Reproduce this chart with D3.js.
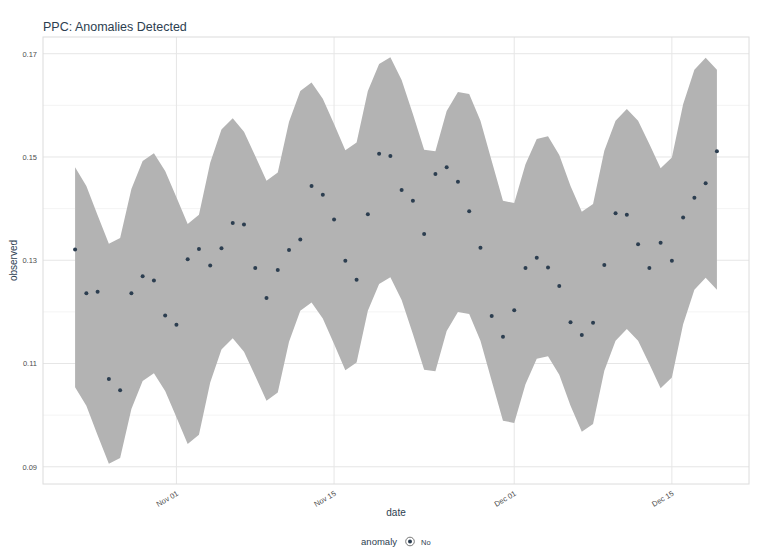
<!DOCTYPE html>
<html><head><meta charset="utf-8">
<script src="https://cdn.jsdelivr.net/npm/d3@7"></script>
<style>body{margin:0;background:#fff;} svg{display:block;font-family:"Liberation Sans",Arial,sans-serif;}</style>
</head><body>
<svg id="c" width="768" height="560"></svg>
<script>
const startDate = "2017-10-23";
const observed = [0.1321,0.1236,0.1239,0.1070,0.1048,0.1236,0.1269,0.1261,0.1193,0.1175,
0.1302,0.1322,0.1290,0.1323,0.1372,0.1369,0.1285,0.1227,0.1281,0.1320,
0.1340,0.1444,0.1427,0.1379,0.1299,0.1262,0.1389,0.1506,0.1502,0.1436,
0.1415,0.1351,0.1467,0.1480,0.1452,0.1395,0.1324,0.1192,0.1152,0.1203,
0.1285,0.1305,0.1286,0.1250,0.1180,0.1155,0.1179,0.1291,0.1391,0.1388,
0.1331,0.1285,0.1334,0.1299,0.1383,0.1421,0.1449,0.1511];
const upper = [0.1480,0.1444,0.1387,0.1332,0.1343,0.1438,0.1492,0.1507,0.1473,0.1422,
0.1370,0.1388,0.1489,0.1553,0.1575,0.1549,0.1502,0.1454,0.1470,0.1568,
0.1628,0.1644,0.1613,0.1564,0.1513,0.1528,0.1628,0.1680,0.1693,0.1649,
0.1583,0.1514,0.1511,0.1589,0.1626,0.1622,0.1570,0.1492,0.1415,0.1411,
0.1486,0.1535,0.1540,0.1504,0.1444,0.1394,0.1409,0.1512,0.1570,0.1593,
0.1570,0.1525,0.1478,0.1499,0.1602,0.1669,0.1692,0.1669];
const lower = [0.1054,0.1018,0.0961,0.0906,0.0917,0.1012,0.1066,0.1081,0.1047,0.0996,
0.0944,0.0962,0.1063,0.1127,0.1149,0.1123,0.1076,0.1028,0.1044,0.1142,
0.1202,0.1218,0.1187,0.1138,0.1087,0.1102,0.1202,0.1254,0.1267,0.1223,
0.1157,0.1088,0.1085,0.1163,0.1200,0.1196,0.1144,0.1066,0.0989,0.0985,
0.1060,0.1109,0.1114,0.1078,0.1018,0.0968,0.0983,0.1086,0.1144,0.1167,
0.1144,0.1099,0.1052,0.1073,0.1176,0.1243,0.1266,0.1243];
const xTicks = ["2017-11-01","2017-11-15","2017-12-01","2017-12-15"];
const yTicks = [0.09,0.11,0.13,0.15,0.17];
const yMinor = [0.10,0.12,0.14,0.16];
const title = "PPC: Anomalies Detected";

const parse = d3.utcParse("%Y-%m-%d");
const d0 = parse(startDate);
const data = observed.map((v,i)=>({date:d3.utcDay.offset(d0,i), obs:v, hi:upper[i], lo:lower[i]}));

const svg = d3.select("#c");
const L=43, R=749, T=37, B=484;
const ext = d3.extent(data,d=>d.date);
const span = ext[1]-ext[0];
const x = d3.scaleUtc().domain([new Date(+ext[0]-span*0.05), new Date(+ext[1]+span*0.05)]).range([L,R]);
const yLo = d3.min(lower), yHi = d3.max(upper), yr = yHi-yLo;
const y = d3.scaleLinear().domain([yLo-yr*0.05, yHi+yr*0.05]).range([B,T]);

const grid = svg.append("g");
grid.selectAll(".ymin").data(yMinor).join("line").attr("x1",L).attr("x2",R)
  .attr("y1",d=>y(d)).attr("y2",d=>y(d)).attr("stroke","#f0f0f0").attr("stroke-width",0.8);
grid.selectAll(".ymaj").data(yTicks).join("line").attr("x1",L).attr("x2",R)
  .attr("y1",d=>y(d)).attr("y2",d=>y(d)).attr("stroke","#e6e6e6").attr("stroke-width",1);
grid.selectAll(".xmaj").data(xTicks).join("line").attr("y1",T).attr("y2",B)
  .attr("x1",d=>x(parse(d))).attr("x2",d=>x(parse(d))).attr("stroke","#e6e6e6").attr("stroke-width",1);

const area = d3.area().x(d=>x(d.date)).y0(d=>y(d.lo)).y1(d=>y(d.hi));
svg.append("path").datum(data).attr("d",area).attr("fill","#b3b3b3");

svg.append("g").selectAll("circle").data(data).join("circle")
  .attr("cx",d=>x(d.date)).attr("cy",d=>y(d.obs)).attr("r",2).attr("fill","#2c3e50");

svg.append("rect").attr("x",L).attr("y",T).attr("width",R-L).attr("height",B-T)
  .attr("fill","none").attr("stroke","#dcdcdc").attr("stroke-width",1);

// axes
const yAxis = d3.axisLeft(y).tickValues(yTicks).tickFormat(d3.format(".2f")).tickSize(0).tickPadding(6);
const gy = svg.append("g").attr("transform",`translate(${L},0)`).call(yAxis);
gy.select(".domain").remove();
gy.selectAll("text").attr("fill","#4d4d4d").attr("font-size",7.5);

const xAxis = d3.axisBottom(x).tickValues(xTicks.map(parse)).tickFormat(d3.utcFormat("%b %d")).tickSize(0);
const gx = svg.append("g").attr("transform",`translate(0,${B})`).call(xAxis);
gx.select(".domain").remove();
gx.selectAll("text").attr("fill","#4d4d4d").attr("font-size",7.5)
  .attr("text-anchor","end").attr("dy",null).attr("y",0)
  .attr("transform","translate(2,11) rotate(-30)");

svg.append("text").attr("x",L).attr("y",31).text(title).attr("font-size",12.5).attr("fill","#2c3e50");
svg.append("text").attr("x",(L+R)/2).attr("y",516).attr("text-anchor","middle").text("date")
  .attr("font-size",10).attr("fill","#2c3e50");
svg.append("text").attr("transform",`translate(17,${(T+B)/2}) rotate(-90)`).attr("text-anchor","middle")
  .text("observed").attr("font-size",10).attr("fill","#2c3e50");

// legend
const lg = svg.append("g");
lg.append("text").attr("x",397).attr("y",545).attr("text-anchor","end").text("anomaly").attr("font-size",9.5).attr("fill","#2c3e50");
lg.append("circle").attr("cx",410).attr("cy",541.5).attr("r",4.3).attr("fill","#fff").attr("stroke","#555").attr("stroke-width",0.8);
lg.append("circle").attr("cx",410).attr("cy",541.5).attr("r",2).attr("fill","#2c3e50");
lg.append("text").attr("x",421).attr("y",544.5).text("No").attr("font-size",7.5).attr("fill","#2c3e50");
</script>
</body></html>
